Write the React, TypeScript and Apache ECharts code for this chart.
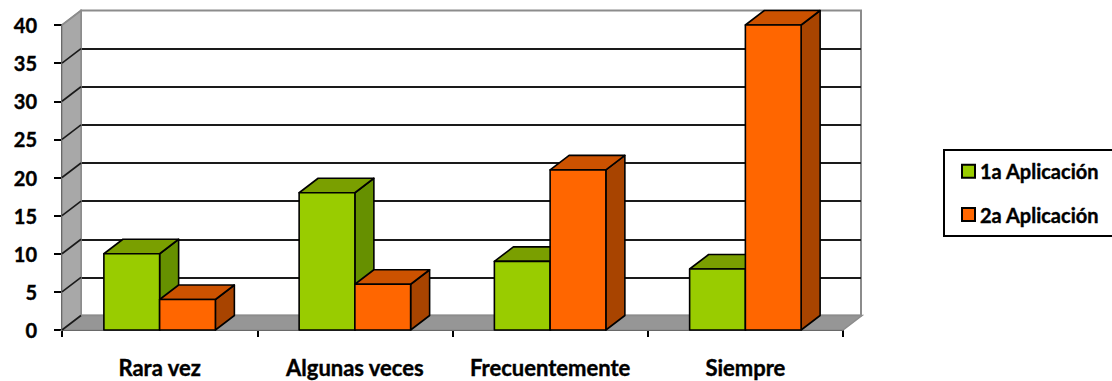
import React, { useEffect, useRef } from "react";
import * as echarts from "echarts";

const categories = ["Rara vez", "Algunas veces", "Frecuentemente", "Siempre"];
const primera = [10, 18, 9, 8];
const segunda = [4, 6, 21, 40];
const yTicks = [0, 5, 10, 15, 20, 25, 30, 35, 40];

const FONT = "Lato, 'Noto Sans', sans-serif";
const DEPTH_X = 19;
const DEPTH_Y = 14.5;
const BAR_SHARE = 0.2855;
const HEAVY = { color: "#000", fontWeight: "bold", fontFamily: FONT, textBorderColor: "#000", textBorderWidth: 0.4 };

const shade = {
  a: { front: "#99cc00", top: "#7a9f00", side: "#669000" },
  b: { front: "#ff6600", top: "#cc5200", side: "#a84400" },
};

const bar3d = (colors: typeof shade.a, slot: number) => (_: any, api: any) => {
  const idx = api.value(0);
  const [cx, yTop] = api.coord([idx, api.value(1)]);
  const [, yBase] = api.coord([idx, 0]);
  const w = api.size([1, 0])[0] * BAR_SHARE;
  const x0 = cx + slot * w;
  const x1 = x0 + w;
  const edge = { stroke: "#000", lineWidth: 1.6, lineJoin: "round" };
  const poly = (points: number[][], fill: string) => ({
    type: "polygon",
    shape: { points },
    style: { fill, ...edge },
  });
  return {
    type: "group",
    children: [
      poly([[x1, yTop], [x1 + DEPTH_X, yTop - DEPTH_Y], [x1 + DEPTH_X, yBase - DEPTH_Y], [x1, yBase]], colors.side),
      poly([[x0, yTop], [x0 + DEPTH_X, yTop - DEPTH_Y], [x1 + DEPTH_X, yTop - DEPTH_Y], [x1, yTop]], colors.top),
      poly([[x0, yTop], [x1, yTop], [x1, yBase], [x0, yBase]], colors.front),
    ],
  };
};

// Floor and left wall of the 3D box, measured from the front plot area.
const renderShell = (params: any, api: any) => {
  const { x, y, width, height } = params.coordSys;
  const bottom = y + height;
  const diagonals = yTicks.map((t) => {
    const py = api.coord([0, t])[1];
    return {
      type: "line",
      shape: { x1: x, y1: py, x2: x + DEPTH_X, y2: py - DEPTH_Y },
      style: { stroke: t === 40 ? "#8c8c8c" : "#1a1a1a", lineWidth: 1.6 },
    };
  });
  return {
    type: "group",
    children: [
      {
        type: "polygon",
        shape: { points: [[x, y], [x + DEPTH_X, y - DEPTH_Y], [x + DEPTH_X, bottom - DEPTH_Y], [x, bottom]] },
        style: { fill: "#a8a8a8", stroke: "#8c8c8c", lineWidth: 1.5 },
      },
      {
        type: "polygon",
        shape: {
          points: [[x, bottom], [x + DEPTH_X, bottom - DEPTH_Y], [x + width + DEPTH_X, bottom - DEPTH_Y], [x + width, bottom]],
        },
        style: { fill: "#969696", stroke: "#8c8c8c", lineWidth: 1.5 },
      },
      ...diagonals,
    ],
  };
};

const toPairs = (values: number[]) => values.map((v, i) => [i, v]);

export default function App() {
  const ref = useRef<HTMLDivElement>(null);

  useEffect(() => {
    const chart = echarts.init(ref.current!, undefined, { renderer: "svg" });
    chart.setOption({
      animation: false,
      backgroundColor: "#ffffff",
      textStyle: { fontFamily: FONT },
      grid: [
        { left: 62, top: 25, width: 781, height: 305 },
        { left: 81, top: 10.5, width: 780, height: 305, show: true, borderColor: "#8c8c8c", borderWidth: 2, backgroundColor: "#ffffff" },
      ],
      // The legend frame runs past the right edge of the canvas.
      graphic: [
        {
          type: "rect",
          z: 0,
          silent: true,
          shape: { x: 944, y: 150, width: 200, height: 86 },
          style: { fill: "#ffffff", stroke: "#000", lineWidth: 2 },
        },
      ],
      legend: {
        left: 944,
        top: 150,
        orient: "vertical",
        padding: [11, 10, 12, 17],
        itemWidth: 13,
        itemHeight: 13,
        itemGap: 23,
        textStyle: { ...HEAVY, fontSize: 20, lineHeight: 20 },
        data: [
          { name: "1a Aplicación", icon: "rect", itemStyle: { color: shade.a.front, borderColor: "#000", borderWidth: 2 } },
          { name: "2a Aplicación", icon: "rect", itemStyle: { color: shade.b.front, borderColor: "#000", borderWidth: 2 } },
        ],
      },
      xAxis: [
        {
          type: "category",
          gridIndex: 0,
          data: categories,
          axisLine: { lineStyle: { color: "#000", width: 2 } },
          axisTick: { show: true, length: 7, interval: 0, lineStyle: { color: "#000", width: 2 } },
          axisLabel: { ...HEAVY, fontSize: 22, lineHeight: 22, margin: 26.5, interval: 0 },
        },
        { type: "category", gridIndex: 1, data: categories, show: false },
      ],
      yAxis: [
        {
          type: "value",
          gridIndex: 0,
          min: 0,
          max: 40,
          interval: 5,
          splitLine: { show: false },
          axisLine: { show: true, lineStyle: { color: "#000", width: 2 } },
          axisTick: { show: true, length: 8, lineStyle: { color: "#000", width: 2 } },
          axisLabel: { ...HEAVY, fontSize: 20, margin: 25 },
        },
        {
          type: "value",
          gridIndex: 1,
          min: 0,
          max: 40,
          interval: 5,
          axisLine: { show: false },
          axisTick: { show: false },
          axisLabel: { show: false },
          splitLine: { show: true, showMinLine: false, showMaxLine: false, lineStyle: { color: "#1a1a1a", width: 2 } },
        },
      ],
      series: [
        {
          type: "custom",
          xAxisIndex: 0,
          yAxisIndex: 0,
          silent: true,
          z: 1,
          data: [[0, 0]],
          renderItem: renderShell,
        },
        {
          type: "custom",
          name: "1a Aplicación",
          xAxisIndex: 0,
          yAxisIndex: 0,
          z: 2,
          itemStyle: { color: shade.a.front },
          encode: { x: 0, y: 1 },
          data: toPairs(primera),
          renderItem: bar3d(shade.a, -1),
        },
        {
          type: "custom",
          name: "2a Aplicación",
          xAxisIndex: 0,
          yAxisIndex: 0,
          z: 3,
          itemStyle: { color: shade.b.front },
          encode: { x: 0, y: 1 },
          data: toPairs(segunda),
          renderItem: bar3d(shade.b, 0),
        },
      ],
    });
    return () => chart.dispose();
  }, []);

  return <div ref={ref} style={{ position: "absolute", left: 0, top: 0, width: 1112, height: 381 }} />;
}
